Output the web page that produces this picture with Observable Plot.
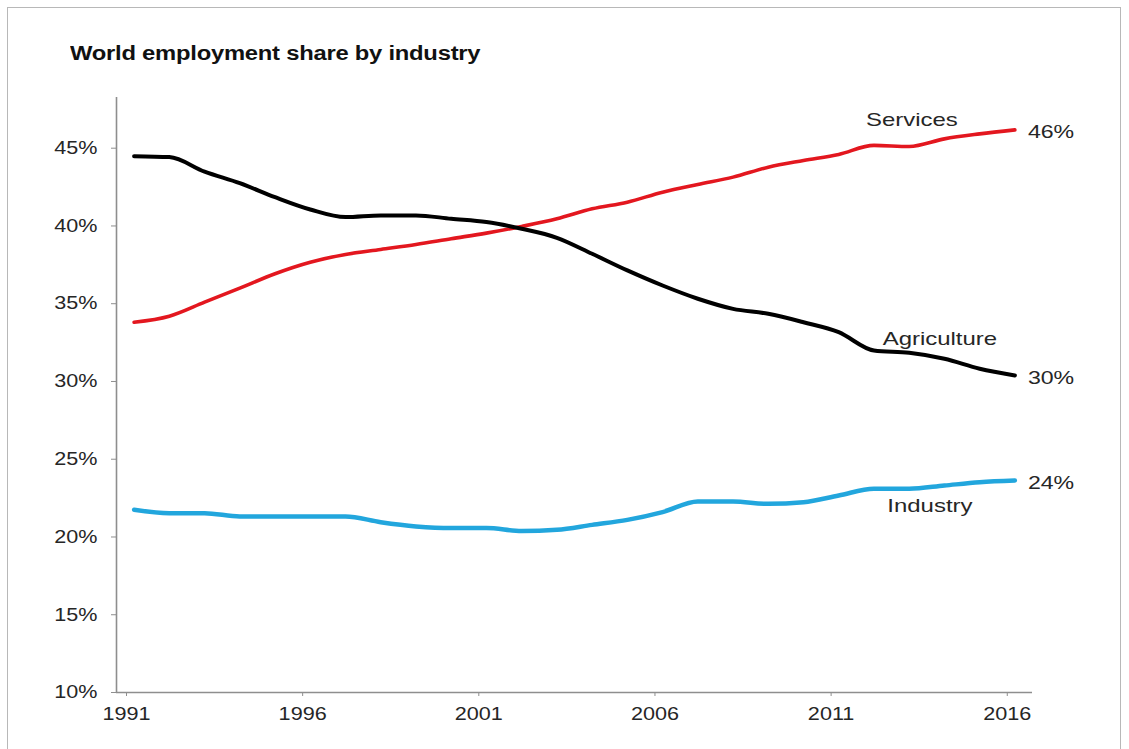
<!DOCTYPE html>
<html>
<head>
<meta charset="utf-8">
<script src="https://cdn.jsdelivr.net/npm/d3@7"></script>
<script src="https://cdn.jsdelivr.net/npm/@observablehq/plot@0.6"></script>
<style>
  body { margin: 0; background: #fff; font-family: "Liberation Sans", Arial, sans-serif; }
  #wrap { position: relative; width: 1129px; height: 749px; overflow: hidden; background: #fff; }
  #frame { position: absolute; left: 7px; top: 7px; width: 1114px; height: 780px; border: 1px solid #b8b8b8; box-sizing: border-box; }
  #title { position: absolute; left: 70px; top: 43px; font-weight: bold; font-size: 19.5px; line-height: 20px;
           color: #111; transform: scaleX(1.22); transform-origin: 0 0; white-space: nowrap; letter-spacing: -0.2px; }
  #chart { position: absolute; left: 0; top: 80px; }
</style>
</head>
<body>
<div id="wrap">
  <div id="frame"></div>
  <div id="title">World employment share by industry</div>
  <div id="chart"></div>
</div>
<script>
// ---- data (percent of world employment) ----
const years = [1991,1992,1993,1994,1995,1996,1997,1998,1999,2000,2001,2002,2003,
               2004,2005,2006,2007,2008,2009,2010,2011,2012,2013,2014,2015,2016];
const agriculture = [44.49,44.43,43.49,42.75,41.85,41.06,40.57,40.68,40.68,40.46,40.25,39.82,39.24,
                     38.21,37.14,36.17,35.32,34.67,34.35,33.81,33.17,31.99,31.84,31.46,30.82,30.39];
const services = [33.81,34.20,35.10,36.00,36.93,37.67,38.17,38.49,38.81,39.18,39.54,39.97,40.46,
                  41.10,41.53,42.17,42.67,43.14,43.78,44.21,44.60,45.18,45.11,45.60,45.92,46.18];
const industry = [21.75,21.53,21.53,21.32,21.32,21.32,21.32,20.95,20.68,20.57,20.57,20.38,20.46,
                  20.78,21.10,21.60,22.28,22.28,22.13,22.24,22.67,23.10,23.10,23.31,23.52,23.63];
const seriesNames = ["Agriculture", "Services", "Industry"];
const seriesColors = ["#000000", "#e3171f", "#22a6dd"];
const yTicks = [10, 15, 20, 25, 30, 35, 40, 45];
const xTickYears = [1991, 1996, 2001, 2006, 2011, 2016];

// build tables
const toRows = (name, vals) => years.map((year, i) => ({series: name, year, value: vals[i]}));
const agriRows = toRows(seriesNames[0], agriculture);
const servRows = toRows(seriesNames[1], services);
const indRows = toRows(seriesNames[2], industry);
const lastOf = rows => [rows[rows.length - 1]];

// Excel category axis: ticks sit on the left boundary of each year's slot
const xTickPos = xTickYears.map(y => y - 0.5);
const axisGray = "#8e8e8e";
const textColor = "#262626";
const font = '"Liberation Sans", Arial, sans-serif';

const chart = Plot.plot({
  width: 1129,
  height: 669,
  marginLeft: 116,
  marginRight: 97,
  marginTop: 17,
  marginBottom: 57,
  style: { fontFamily: font, fontSize: "18px", color: textColor, background: "transparent", overflow: "visible" },
  x: { domain: [years[0] - 0.5, years[years.length - 1] + 0.5] },
  y: { domain: [10, 48.26] },
  marks: [
    Plot.axisX({ ticks: xTickPos, tickFormat: d => String(d + 0.5), tickSize: 4, tickPadding: 11,
                 dx: 10, stroke: axisGray, fill: textColor, label: null, fontSize: 18 }),
    Plot.axisY({ ticks: yTicks, tickFormat: d => d + "%", tickSize: 5, tickPadding: 14,
                 stroke: axisGray, fill: textColor, label: null, fontSize: 18 }),
    Plot.ruleX([years[0] - 0.5], { stroke: axisGray, strokeWidth: 1.6 }),
    Plot.ruleY([10], { stroke: axisGray, strokeWidth: 1.6 }),
    Plot.line(indRows, { x: "year", y: "value", stroke: seriesColors[2], strokeWidth: 4.5, curve: "monotone-x" }),
    Plot.line(servRows, { x: "year", y: "value", stroke: seriesColors[1], strokeWidth: 3.6, curve: "monotone-x" }),
    Plot.line(agriRows, { x: "year", y: "value", stroke: seriesColors[0], strokeWidth: 4, curve: "monotone-x" }),
    // end value labels
    Plot.text([...lastOf(servRows), ...lastOf(agriRows), ...lastOf(indRows)], {
      x: "year", y: "value", text: d => Math.round(d.value) + "%", textAnchor: "start",
      dx: 13, dy: 2.5, fontSize: 18.5, fill: textColor
    }),
    // series name labels
    Plot.text(lastOf(servRows), { x: "year", y: "value", text: "series", dx: -103, dy: -10,
      fontSize: 19, fill: textColor }),
    Plot.text(lastOf(agriRows), { x: "year", y: "value", text: "series", dx: -75, dy: -36.5,
      fontSize: 19, fill: textColor }),
    Plot.text(lastOf(indRows), { x: "year", y: "value", text: "series", dx: -85, dy: 25.7,
      fontSize: 19, fill: textColor })
  ]
});

document.getElementById("chart").appendChild(chart);

// the reference's lettering is horizontally widened; reproduce that on the real text
function widen(texts, factor) {
  texts.forEach(t => {
    const len = t.getComputedTextLength();
    if (len > 0) {
      t.setAttribute("textLength", (len * factor).toFixed(1));
      t.setAttribute("lengthAdjust", "spacingAndGlyphs");
    }
  });
}
const allTexts = Array.from(chart.querySelectorAll("text"));
const sizeOf = t => parseFloat(getComputedStyle(t).fontSize);
widen(allTexts.filter(t => Math.abs(sizeOf(t) - 18) < 0.1), 1.2);
widen(allTexts.filter(t => Math.abs(sizeOf(t) - 18.5) < 0.1), 1.25);
widen(allTexts.filter(t => Math.abs(sizeOf(t) - 19) < 0.1), 1.26);
</script>
</body>
</html>
